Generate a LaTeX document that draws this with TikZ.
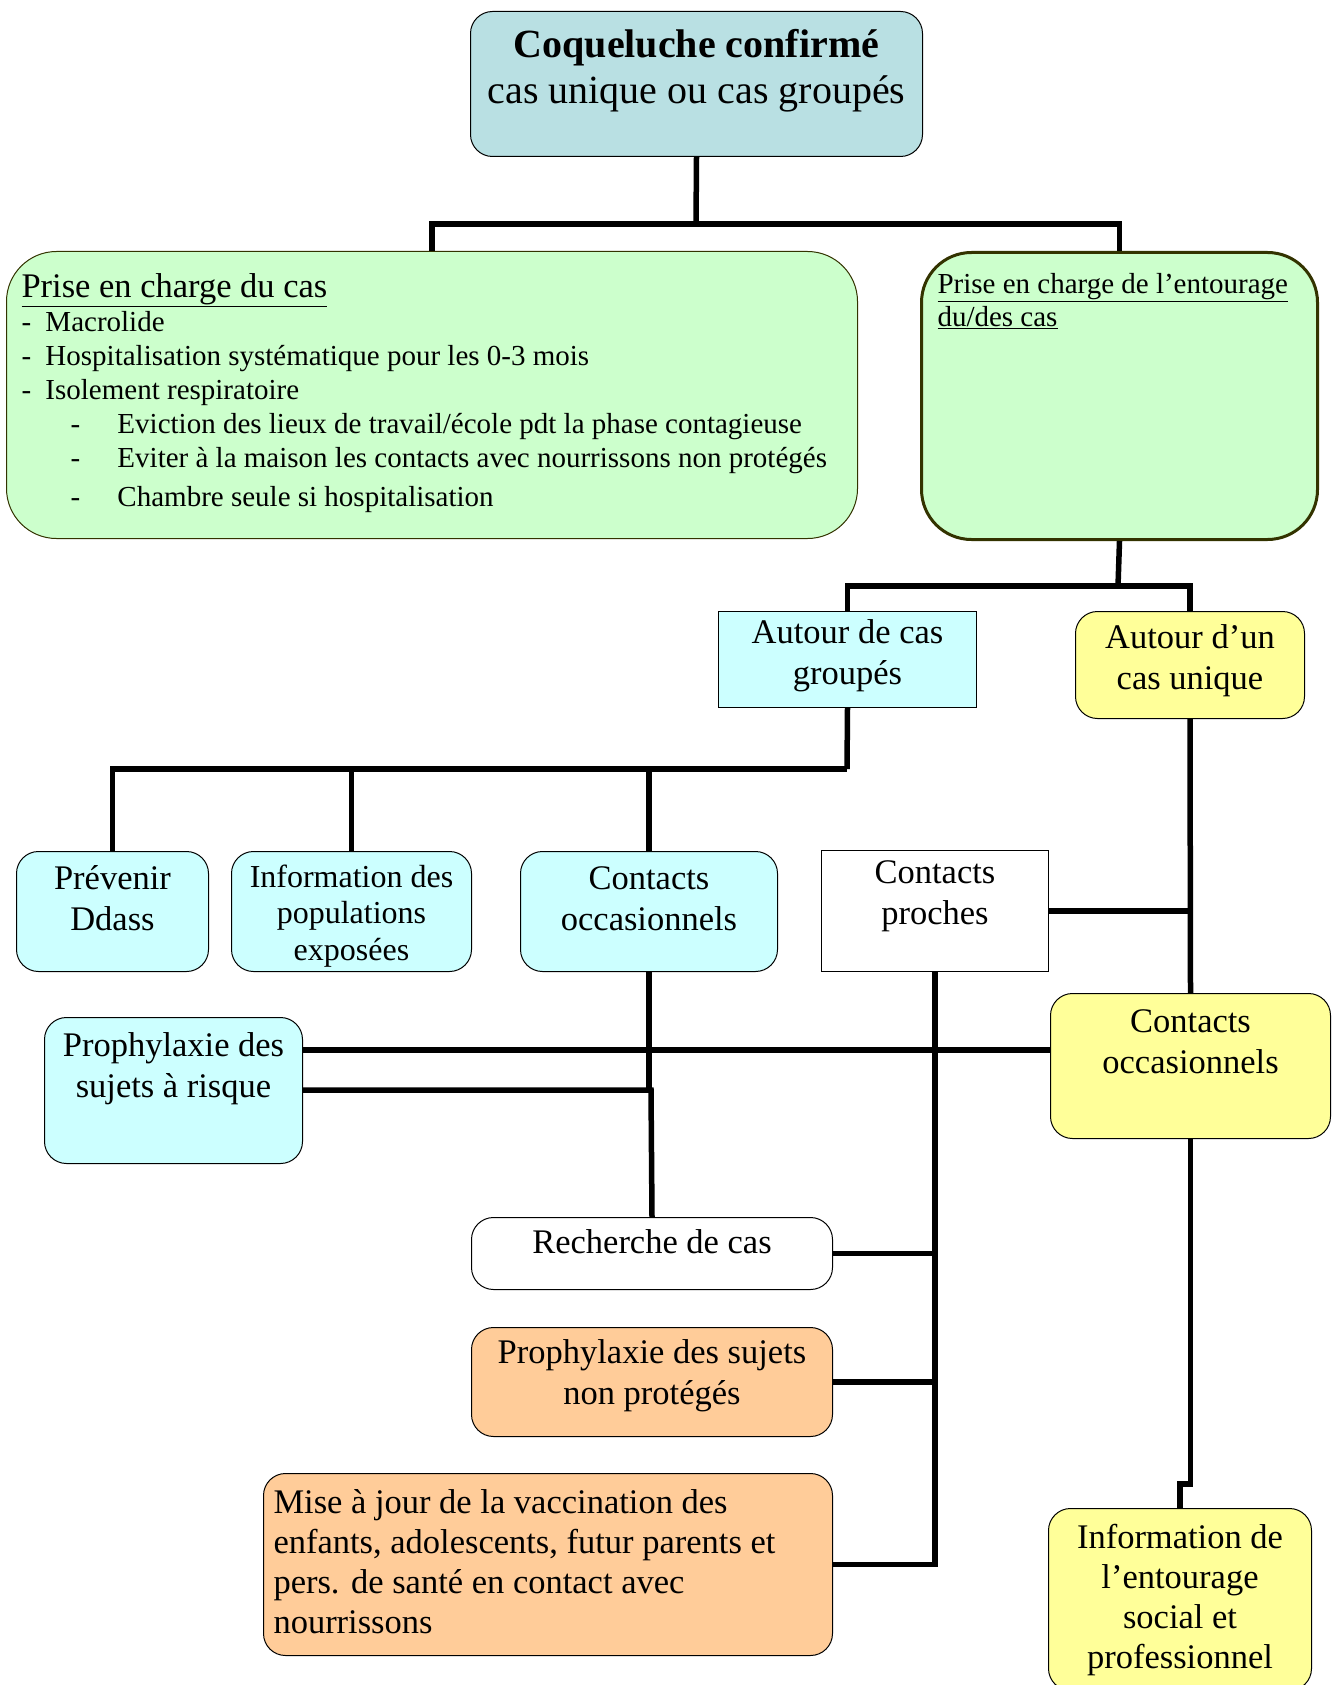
\documentclass[tikz,border=0pt]{standalone}
\usepackage{fontspec}
\setmainfont{Liberation Serif}
\definecolor{bleugris}{HTML}{B9E0E3}
\definecolor{vertclair}{HTML}{CCFFCC}
\definecolor{cyanclair}{HTML}{CCFFFF}
\definecolor{jaune}{HTML}{FFFF99}
\definecolor{peche}{HTML}{FFCC99}
\definecolor{bordvert}{HTML}{333300}
\newcommand\epais{5.5pt}
\newcommand\cadre[4]{\parbox[c][#2pt][t]{#1pt}{\centering\vspace*{#3pt}\strut#4}}
\newcommand\tiret{\makebox[24pt][l]{-}}
\newcommand\soustiret{\hspace*{49pt}\makebox[47pt][l]{-}}

\begin{document}
\begin{tikzpicture}[x=1pt,y=-1pt,
    boite/.style={draw,line width=1pt,rounded corners=22pt,inner sep=0pt,anchor=north west,
      font=\fontsize{34.5}{41}\selectfont},
    lien/.style={line width=\epais}]
  \useasboundingbox (0,0) rectangle (1334,1685);

  % haut
  \node[boite,fill=bleugris,font=\fontsize{40}{46}\selectfont] (sommet) at (470,11)
    {\cadre{452}{145}{14}{\textbf{Coqueluche confirmé}\\cas unique ou cas groupés}};

  \node[boite,fill=vertclair,draw=bordvert,rounded corners=50pt,font=\fontsize{29}{34}\selectfont] (cas) at (6,251)
    {\parbox[c][287pt][t]{851pt}{\raggedright\leftskip=15pt
      \vspace*{22pt}\strut{\fontsize{34.5}{34}\selectfont\underline{Prise en charge du cas}}\\
      \tiret Macrolide\\
      \tiret Hospitalisation systématique pour les 0-3 mois\\
      \tiret Isolement respiratoire\\
      \soustiret Eviction des lieux de travail/école pdt la phase contagieuse\\
      \soustiret Eviter à la maison les contacts avec nourrissons non protégés\\[5pt]
      \soustiret Chambre seule si hospitalisation}};

  \node[boite,fill=vertclair,draw=bordvert,line width=3pt,rounded corners=50pt,font=\fontsize{29}{33}\selectfont] (entourage) at (920,251)
    {\parbox[c][287pt][t]{396pt}{\raggedright\leftskip=16pt
      \vspace*{18pt}\strut\underline{Prise en charge de l’entourage}\\
      \underline{du/des cas}}};

  % milieu
  \node[boite,sharp corners,fill=cyanclair] (groupes) at (718,611)
    {\cadre{258}{96}{3}{Autour de cas\\groupés}};
  \node[boite,fill=jaune] (unique) at (1075,611)
    {\cadre{229}{107}{8}{Autour d’un\\cas unique}};

  \node[boite,fill=cyanclair] (ddass) at (16,851)
    {\cadre{192}{120}{9}{Prévenir\\Ddass}};
  \node[boite,fill=cyanclair,font=\fontsize{32}{36.5}\selectfont] (popul) at (231,851)
    {\cadre{240}{120}{10}{Information des\\populations\\exposées}};
  \node[boite,fill=cyanclair] (occgr) at (520,851)
    {\cadre{257}{120}{9}{Contacts\\occasionnels}};
  \node[boite,sharp corners,fill=white] (proches) at (821,850)
    {\cadre{227}{121}{4}{Contacts\\proches}};

  \node[boite,fill=jaune] (occun) at (1050,993)
    {\cadre{280}{145}{10}{Contacts\\occasionnels}};
  \node[boite,fill=cyanclair] (risque) at (44,1017)
    {\cadre{258}{146}{10}{Prophylaxie des\\sujets à risque}};

  % bas
  \node[boite,fill=white] (recherche) at (471,1217)
    {\cadre{361}{72}{7}{Recherche de cas}};
  \node[boite,fill=peche] (nonprot) at (471,1327)
    {\cadre{361}{109}{7}{Prophylaxie des sujets\\non protégés}};
  \node[boite,fill=peche,font=\fontsize{34.5}{40}\selectfont] (vaccin) at (263,1473)
    {\parbox[c][182pt][t]{569pt}{\raggedright\leftskip=10pt
      \vspace*{12pt}\strut Mise à jour de la vaccination des\\
      enfants, adolescents, futur parents et\\
      pers. de santé en contact avec\\
      nourrissons}};
  \node[boite,fill=jaune,font=\fontsize{34.5}{40}\selectfont] (infoent) at (1048,1508)
    {\cadre{263}{182}{12}{Information de\\l’entourage\\social et\\professionnel}};

  % liens
  \coordinate (b1) at (696,224);
  \draw[lien] (sommet.south) -- (b1);
  \draw[lien] (cas.north) |- (b1) -| (entourage.north);

  \coordinate (b2) at (1118,586);
  \draw[lien] (entourage.south) -- (b2);
  \draw[lien] (groupes.north) |- (b2) -| (unique.north);

  \coordinate (b3) at (847,769);
  \draw[lien] (groupes.south) -- (b3);
  \draw[lien] (ddass.north) |- (b3);
  \draw[lien] (popul.north) -- (popul.north |- b3);
  \draw[lien] (occgr.north) -- (occgr.north |- b3);

  \draw[lien] (unique.south) -- (occun.north);
  \draw[lien] (proches.east) -- (unique.south |- proches.east);

  \draw[lien] ([yshift=-33pt]risque.north east) -- ([yshift=-57pt]occun.north west);
  \coordinate (b4) at (651,1090);
  \draw[lien] (occgr.south) -- (occgr.south |- b4);
  \draw[lien] (risque.east |- b4) -- (b4) -- (recherche.north);

  \draw[lien] (proches.south) |- (vaccin.east);
  \draw[lien] (recherche.east) -- (proches.south |- recherche.east);
  \draw[lien] (nonprot.east) -- (proches.south |- nonprot.east);

  \draw[lien] (occun.south) |- ([yshift=24pt]infoent.north) -- (infoent.north);
\end{tikzpicture}
\end{document}
